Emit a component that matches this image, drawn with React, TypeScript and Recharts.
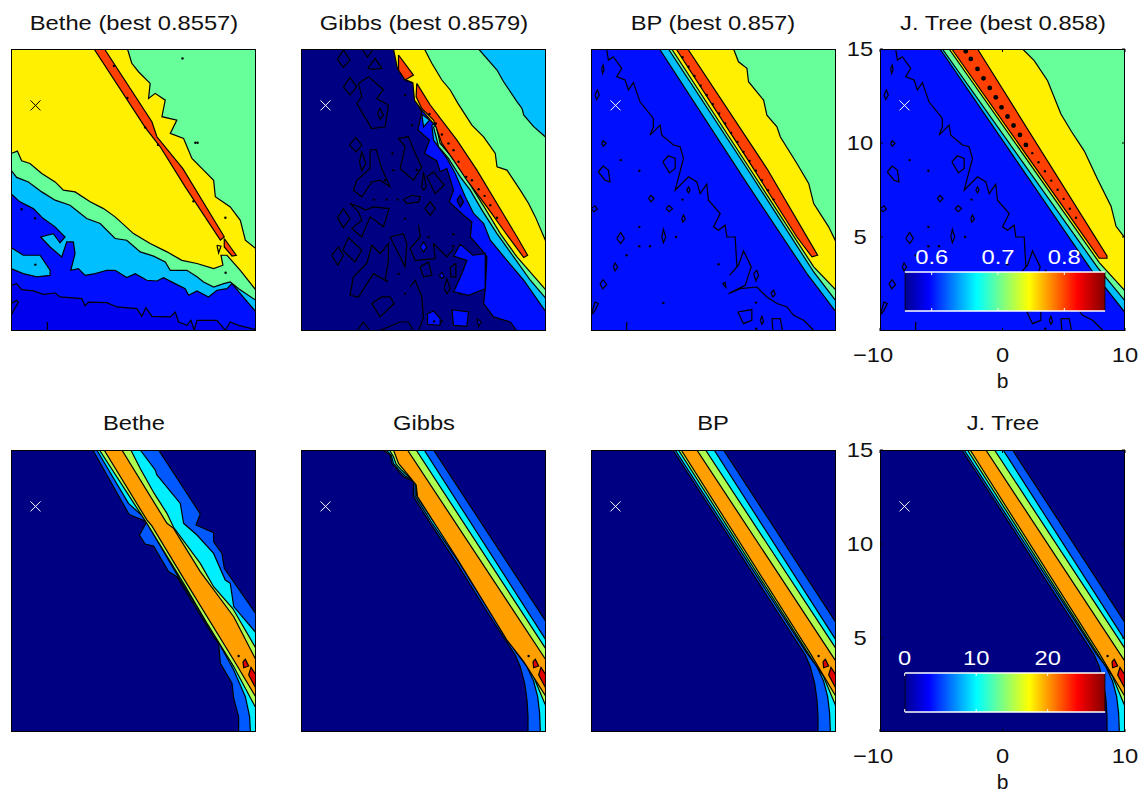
import React from "react";
import { ScatterChart, Scatter, XAxis, YAxis } from "recharts";

type Pairs = number[][];

// Axis ranges
const bRange = [-10, 10];
const yRange = [0, 15];
const bTicks = [-10, 0, 10];
const yTicks = [5, 10, 15];
const bestPoint: Pairs = [[-8, 12]];
const plotOutline: Pairs = [[-10, 0], [10, 0], [10, 15], [-10, 15]];

const titlesTop = ["Bethe (best 0.8557)", "Gibbs (best 0.8579)", "BP (best 0.857)", "J. Tree (best 0.858)"];
const titlesBottom = ["Bethe", "Gibbs", "BP", "J. Tree"];

// Colorbar scales
const accuracyRange = [0.5593, 0.8618];
const accuracyTicks = [0.6, 0.7, 0.8];
const energyRange = [0, 28.06];
const energyTicks = [0, 10, 20];

// Contour colours
const NAVY = "#000083";
const DEEP = "#0000EE";
const BLUE = "#0010FF";
const MID = "#0058FF";
const SKY = "#00BFFF";
const CYAN = "#00EFFF";
const MINT = "#66FF99";
const LIME = "#AFFF50";
const YELLOW = "#FFEF00";
const ORANGE = "#FF9F00";
const VERMILION = "#FF4000";
const RED = "#DF0000";

// ---- Bethe, accuracy ----
const betheBlue: Pairs = [[-10, 2.43], [-9.54, 2.52], [-9.13, 2.2], [-8.18, 2.13], [-7.36, 1.95], [-6.4, 2.02], [-6, 1.81], [-4.22, 1.72], [-3.95, 1.33], [-3.68, 1.54], [-2.18, 1.51], [-1.36, 1.28], [0.27, 1.19], [0.68, 0.78], [1.01, 1.24], [1.5, 0.78], [3, 0.75], [3.41, 1.01], [3.68, 0.48], [4.36, 0.3], [4.69, 0.57], [4.96, 0.04], [5.18, 0.57], [6.81, 0.57], [7.49, 0.04], [7.9, 0.48], [8.58, 0.3], [10, 0.07], [10, 15], [-10, 15]];
const betheBlueIsle: Pairs = [[-10, 0.83], [-9.4, 1.54], [-9.54, 1.63], [-10, 1.46]];
const betheSky: Pairs = [[-10, 7.31], [-9.27, 6.87], [-8.18, 6.51], [-7.36, 5.98], [-6.4, 5.54], [-5.59, 5], [-6, 4.69], [-6.54, 5.18], [-7.58, 5], [-6.81, 4.47], [-5.86, 3.94], [-5.45, 4.74], [-4.91, 4.74], [-4.77, 4.12], [-5.12, 3.23], [-4.5, 3.32], [-3.95, 2.96], [-3.13, 3.05], [-2.18, 3.23], [-1.5, 3.23], [-0.55, 2.84], [0.14, 3.05], [1.09, 2.7], [1.91, 2.66], [2.45, 2.84], [3.27, 2.56], [4.22, 2.25], [4.5, 1.9], [5.18, 2.13], [6.13, 1.81], [6.81, 2.17], [7.63, 2.25], [8.04, 2.52], [8.72, 1.99], [10, 1.01], [10, 15], [-10, 15]];
const betheSkyIsle: Pairs = [[-10, 4.44], [-9, 4.03], [-7.63, 4.03], [-6.81, 3.23], [-6.81, 2.96], [-7.9, 2.88], [-9, 3.05], [-10, 3.32]];
const betheMint: Pairs = [[-10, 8.56], [-9.54, 8.17], [-8.58, 7.93], [-7.49, 7.4], [-6.4, 6.96], [-5.18, 6.69], [-3.82, 5.98], [-2.72, 5.72], [-1.5, 4.92], [-0.55, 4.83], [0.55, 4.21], [1.64, 3.98], [2.59, 3.67], [3, 3.23], [4.36, 3.23], [5.18, 2.88], [5.72, 2.61], [6.54, 2.34], [7.36, 2.52], [7.9, 2.61], [8.58, 2.25], [10, 1.63], [10, 15], [-10, 15]];
const betheYellow: Pairs = [[-10, 9.44], [-9.48, 9.57], [-9.13, 9.05], [-8.45, 8.91], [-7.49, 8.38], [-6.4, 7.93], [-5.72, 7.49], [-4.77, 7.4], [-3.54, 6.87], [-2.45, 6.51], [-1.5, 6.07], [0, 5.18], [1.36, 4.65], [2.73, 4.21], [3.95, 3.76], [5.18, 3.59], [6.54, 3.32], [7.3, 3.5], [7.14, 4.03], [7.63, 4.03], [8.72, 3.23], [10, 2.17], [10, 15], [-10, 15]];
const betheUpperMint: Pairs = [[-0.49, 15], [-0.14, 14.24], [0.41, 13.79], [1.36, 13.17], [1.23, 12.37], [1.77, 12.64], [2.59, 12.28], [2.32, 11.4], [3.54, 11.22], [3, 10.51], [4.09, 10.24], [4.77, 9.18], [5.72, 8.56], [6.54, 8.02], [6.68, 7.14], [7.9, 6.6], [8.72, 5.89], [9.13, 4.83], [10, 4.38], [10, 15]];
const betheRidge: Pairs = [[-3.22, 15], [-2.37, 15], [1.5, 11.13], [1.91, 10.33], [4.03, 8.64], [7.41, 5.01], [7.09, 4.83], [4.22, 7.67], [2.18, 9.8], [0.95, 10.83]];
const betheRidgeTip: Pairs = [[7.41, 4.92], [8.39, 4.03], [8.04, 3.99], [7.41, 4.47]];
const betheLoops: Pairs[] = [[[6.81, 4.56], [7.14, 4.51], [6.95, 4.15]]];
const betheOpen: Pairs[] = [[[-7.03, 0], [-7.03, 0.48]]];
const betheSpecks: Pairs = [[4, 14.5], [5.23, 10.01], [5.05, 10.01], [7.52, 3.1], [-9.13, 6.48], [-8.04, 6], [-8.01, 3.53], [2, 9.9], [-1.6, 14.1], [0.95, 10.83], [-0.5, 12.4], [7.5, 6.02], [4.9, 6.9]];

// ---- Gibbs, accuracy ----
const gibbsBlue: Pairs = [[-2.45, 15], [-2.04, 13.88], [-1.5, 13.35], [-0.82, 13.17], [-0.68, 12.28], [-0.14, 11.66], [-0.46, 10.69], [0.49, 10.15], [0.08, 9.44], [1.09, 9.05], [1.36, 8.47], [1.91, 8.64], [2.45, 7.49], [2.1, 6.87], [3.27, 6.16], [3.95, 5.8], [3.82, 5], [4.77, 4.3], [5.18, 3.94], [5.04, 2.25], [4.91, 1.46], [5.72, 0.75], [7.09, 0.48], [7.63, 0], [10, 0], [10, 15]];
const gibbsBlueBlob: Pairs = [[3, 4.62], [4.03, 4.03], [5.04, 4.12], [5.04, 2.25], [3.68, 1.9], [2.45, 2.08], [3.13, 3.05], [3.54, 3.76], [2.45, 3.98]];
const gibbsBlueIsles: Pairs[] = [
  [[0.33, 0.92], [0.82, 1.07], [1.36, 0.66], [1.36, 0.3], [0.33, 0.36]],
  [[2.32, 1.14], [3.68, 1.01], [3.54, 0.25], [2.45, 0.3]],
  [[4.36, 0.66], [4.69, 0.48], [4.5, 0.25]],
  [[-0.27, 4.47], [0, 4.74], [0.27, 4.47], [0, 4.21]],
  [[1.28, 2.96], [1.5, 3.11], [1.69, 2.91], [1.5, 2.79]],
];
const gibbsNavyIsle: Pairs = [[2.73, 6.96], [3, 7.22], [3.27, 6.87], [3, 6.6]];
const gibbsSkyWedge: Pairs = [[-0.14, 11.54], [0.49, 11.22], [0, 10.86]];
const gibbsSky: Pairs = [[0.68, 10.95], [0.82, 10.15], [1.91, 9.18], [2.59, 8.38], [3.41, 7.14], [4.09, 6.25], [4.91, 5.72], [5.45, 4.83], [6.81, 3.76], [8.18, 2.7], [10, 1.01], [10, 15]];
const gibbsMint: Pairs = [[0.82, 10.86], [1.23, 9.8], [2.04, 9.18], [3, 8.2], [3.82, 7.49], [4.77, 6.43], [6, 5.18], [7.36, 3.94], [8.72, 2.7], [10, 1.72], [10, 15]];
const gibbsYellow: Pairs = [[-2.45, 15], [-2.13, 13.97], [-1.5, 13.38], [-0.87, 13.21], [-0.74, 12.28], [-0.14, 11.75], [0.68, 11.13], [1.04, 10.9], [1.36, 9.98], [2.18, 9.35], [3.27, 8.38], [4.09, 7.49], [5.04, 6.51], [6.27, 5.18], [7.63, 3.94], [10, 2.17], [10, 15]];
const gibbsUpperMint: Pairs = [[0.08, 15], [0.68, 14.24], [1.5, 13.35], [2.18, 12.82], [2.81, 12.11], [3.95, 10.95], [4.91, 10.33], [5.86, 9.44], [6, 8.73], [6.81, 8.56], [7.9, 7.49], [8.58, 6.78], [9.13, 6.07], [10, 4.74], [10, 15]];
const gibbsUpperSky: Pairs = [[4.5, 15], [6, 13.88], [6.54, 13.26], [7.63, 12.2], [8.04, 11.84], [8.18, 11.49], [8.99, 10.87], [10, 10.3], [10, 15]];
const gibbsRidgeTop: Pairs = [[-2.04, 14.68], [-0.82, 13.61], [-1.5, 13.35], [-2.04, 13.88]];
const gibbsRidge: Pairs = [[-0.55, 13.17], [0.55, 12.02], [2.73, 10.15], [4.36, 8.56], [6, 6.78], [7.63, 5.01], [8.5, 4.03], [8.18, 3.91], [6.54, 5.36], [5.18, 6.6], [3.54, 8.02], [2.45, 9.09], [1.5, 9.98], [0.82, 11.22], [-0.14, 11.84], [-0.6, 12.46]];
const gibbsRidgeSpecks: Pairs = [[0.49, 11.54], [1.01, 11.04], [1.5, 10.45], [2.04, 9.98], [2.45, 9.62], [2.86, 9], [3.49, 8.2], [3.95, 8.02], [4.5, 7.54], [4.99, 7.19], [5.45, 6.69], [6, 6.02]];
const gibbsLoops: Pairs[] = [
  [[-7.03, 14.45], [-6.54, 14.95], [-6, 14.41], [-6.54, 14.02]],
  [[-4.55, 13.97], [-3.95, 14.5], [-3.41, 13.97], [-4.09, 13.92]],
  [[-6.54, 12.99], [-6, 13.49], [-5.45, 12.99], [-6, 12.55]],
  [[-5.45, 12.11], [-5.04, 12.46], [-5.31, 13.17], [-4.5, 13.53], [-3.27, 12.85], [-3.82, 12.37], [-2.86, 12.02], [-3.13, 10.86], [-4.22, 10.77]],
  [[-3.76, 11.57], [-3.54, 11.84], [-3.27, 11.48], [-3.54, 11.25]],
  [[-6.05, 9.89], [-5.53, 10.3], [-5.04, 9.89], [-5.5, 9.53]],
  [[-5.23, 9], [-5.04, 9.53], [-4.71, 8.91], [-5.04, 8.52]],
  [[-5.45, 8.02], [-4.36, 8.64], [-4.36, 9.62], [-3.87, 9.66], [-3.41, 8.64], [-2.73, 7.67], [-3.54, 8.02], [-4.22, 7.93], [-5.04, 7.14], [-5.72, 7.49]],
  [[-7.03, 6.02], [-6.54, 6.51], [-6, 5.98], [-6.54, 5.5]],
  [[-6, 6.78], [-5.23, 6.6], [-4.77, 6.43], [-4.09, 6.6], [-2.81, 6.51], [-3.27, 5.54], [-4.36, 6.07], [-5.04, 5], [-5.86, 5.45], [-5.04, 5.89], [-5.31, 6.34]],
  [[-7.49, 4.03], [-6.95, 4.47], [-6.54, 4.03], [-7, 3.5]],
  [[-6.59, 4.3], [-6.13, 4.97], [-5.04, 4.3], [-5.59, 3.67]],
  [[-6, 1.9], [-5.72, 2.88], [-4.63, 3.59], [-4.22, 4.56], [-3.54, 4.12], [-2.86, 4.65], [-2.86, 3.76], [-3.13, 2.7], [-4.09, 3.05], [-5.31, 1.81]],
  [[-4.22, 1.46], [-3.41, 1.81], [-2.73, 1.81], [-2.4, 1.46], [-3.54, 0.75]],
  [[-2.73, 5], [-1.64, 5.18], [-1.36, 4.65], [-1.5, 3.41], [-2.18, 4.3]],
  [[-1.64, 6.99], [-0.95, 7.22], [-0.27, 7.14], [-0.41, 6.87], [-1.36, 6.78]],
  [[0.11, 6.51], [0.55, 6.87], [0.95, 6.51], [0.55, 6.16]],
  [[-1.91, 8.64], [-1.5, 9.8], [-2.04, 10.24], [-1.23, 10.33], [-0.68, 9.44], [-0.14, 8.73], [-0.82, 8.02]],
  [[-0.14, 7.67], [0, 8.47], [0.22, 7.67], [0, 7.49]],
  [[0.27, 8.2], [0.82, 8.47], [1.69, 7.76], [0.95, 7.31]],
  [[-0.27, 3.41], [0.41, 3.67], [0.68, 2.96], [0, 2.88]],
  [[2.18, 3.41], [2.64, 3.59], [2.64, 2.88], [2.23, 2.88]],
  [[1.69, 2.25], [1.91, 2.79], [2.18, 2.25], [1.91, 1.99]],
];
const gibbsOpen: Pairs[] = [
  [[-5.04, 15], [-4.58, 14.56], [-4.09, 15]],
  [[-5.45, 0], [-4.91, 0.48], [-4.36, 0]],
  [[-0.41, 5.63], [-0.27, 5], [-1.09, 4.38], [-0.68, 3.76], [0.95, 3.85], [0.82, 4.65], [1.91, 3.94], [2.45, 4.38]],
  [[-1.09, 2.34], [-0.68, 2.7], [-0.14, 1.81], [0, 0.75], [-0.41, 0]],
  [[-3.68, 0], [-1.91, 0.48], [-1.23, 0.48], [-0.82, 0]],
];
const gibbsSpecks: Pairs = [[-2.53, 9.44], [-3.13, 8.02], [-4.03, 6.99], [-3, 6.99], [-2.1, 6.99], [-1.5, 5.98], [0.41, 5], [2.45, 5.15], [2.45, 4.51], [-2.04, 3.05], [-3, 2.66], [-1.5, 1.99], [3, 1.99], [0.87, 0.51], [1.5, 0.51], [-0.55, 8.56], [-2.45, 8.55], [-1.5, 12.55], [-0.95, 10.95]];

// ---- BP, accuracy ----
const bpSky: Pairs = [[-4.41, 15], [2.73, 7.85], [7.63, 3.05], [10, 1.01], [10, 15]];
const bpMint: Pairs = [[-3.68, 15], [3, 8.38], [8.18, 3.14], [10, 1.6], [10, 15]];
const bpYellow: Pairs = [[-3.41, 15], [3.13, 8.47], [8.18, 3.41], [10, 2.17], [10, 15]];
const bpRidge: Pairs = [[-3.05, 15], [-2.1, 15], [4.36, 8.64], [8.5, 4.03], [8.04, 3.94], [6.81, 5], [2.73, 9.18]];
const bpUpperMint: Pairs = [[1.64, 15], [2.04, 14.32], [2.73, 13.97], [2.86, 13.26], [4.09, 12.28], [4.36, 11.48], [5.18, 10.86], [5.45, 10.33], [6.81, 8.91], [7.77, 7.85], [8.18, 6.78], [9.4, 5.54], [10, 4.74], [10, 15]];
const bpWiggle: Pairs = [[-8.72, 15], [-8.58, 14.41], [-8.18, 14.59], [-7.49, 13.97], [-7.9, 13.53], [-7.22, 13.35], [-6.95, 12.82], [-6.54, 13.21], [-6, 12.19], [-4.91, 11.31], [-4.91, 10.86], [-5.18, 10.42], [-4.36, 10.95], [-4.22, 10.42], [-3.27, 9.89], [-2.73, 9.8], [-2.45, 9.18], [-3.13, 7.49], [-2.04, 8.2], [-1.36, 7.93], [-1.09, 7.31], [-0.55, 7.81], [-0.41, 6.96], [0.55, 6.25], [0, 5.54], [0.41, 5.36], [0.95, 5.63], [1.09, 5], [1.77, 5], [1.91, 3.41], [1.31, 2.96], [2.04, 3.5], [2.45, 4.26], [3.08, 3.41], [2.59, 2.43], [1.23, 1.99], [2.18, 2.25], [3.54, 2.34], [4.36, 1.81], [5.18, 1.46], [6, 1.28], [6.54, 0.83], [7.36, 0.57], [8.18, 0.04]];
const bpLoops: Pairs[] = [
  [[-9.13, 13.97], [-9, 14.15], [-8.94, 13.88], [-9.05, 13.7]],
  [[-9.67, 12.55], [-9.48, 12.82], [-9.32, 12.55], [-9.54, 12.32]],
  [[-9.13, 9.98], [-9, 10.12], [-8.77, 9.98], [-9, 9.83]],
  [[-9.4, 8.47], [-9, 8.77], [-8.58, 8.56], [-8.45, 7.93], [-8.86, 8.02]],
  [[-4.14, 9], [-3.68, 9.32], [-3.13, 9.18], [-3.13, 8.64], [-3.6, 8.41]],
  [[-5.31, 7.05], [-5.1, 7.21], [-4.85, 7.05], [-5.1, 6.87]],
  [[-3.87, 6.51], [-3.62, 6.67], [-3.35, 6.51], [-3.62, 6.35]],
  [[-2.59, 5.98], [-2.45, 6.16], [-2.29, 5.95], [-2.51, 5.8]],
  [[-10, 6.51], [-9.67, 6.66], [-9.48, 6.48], [-9.76, 6.34]],
  [[-7.9, 4.92], [-7.58, 5.24], [-7.28, 4.92], [-7.58, 4.65]],
  [[-4.22, 5], [-4.09, 5.4], [-3.9, 5], [-4.09, 4.7]],
  [[-8.18, 3.41], [-8.04, 3.62], [-7.82, 3.41], [-8.04, 3.2]],
  [[-9.27, 2.52], [-9, 2.73], [-8.72, 2.47], [-9.05, 2.25]],
  [[-10, 0.83], [-9.67, 1.54], [-9.4, 1.46], [-9.67, 1.1]],
  [[1.99, 1.01], [3.13, 1.14], [3.13, 0.57], [2.45, 0.39]],
  [[4.77, 0.66], [5.45, 0.66], [5.64, 0], [4.85, 0]],
  [[3.27, 3.05], [3.54, 3.23], [3.68, 2.96], [3.46, 2.66]],
  [[0.74, 2.52], [0.95, 2.59], [1.01, 2.31]],
  [[4.69, 2.02], [4.91, 2.17], [5.04, 1.95], [4.85, 1.81]],
  [[3.82, 0.57], [3.95, 0.78], [4.09, 0.48], [3.95, 0.36]],
  [[-2.18, 7.49], [-2.04, 7.67], [-1.91, 7.49], [-2.04, 7.35]],
];
const bpOpen: Pairs[] = [bpWiggle, [[-7.09, 0], [-7.09, 0.48]]];
const bpSpecks: Pairs = [[-7.58, 9.09], [-6.05, 8.52], [-2.53, 6.99], [-3.05, 5], [-6.05, 4.51], [-5.18, 4.51], [-7.09, 4.03], [-4.09, 1.49], [-6.05, 5.54], [0.41, 3.55], [3.46, 1.51], [3.49, 0.12]];
const bpRidgeSpecks: Pairs = [[-2.53, 14.56], [-2.04, 14.06], [-1.55, 13.56], [-1.04, 13.05], [-0.55, 12.55], [-0.05, 12.07], [0.46, 11.57], [0.95, 11.04], [1.44, 10.54], [1.96, 10.06], [2.45, 9.53], [2.94, 9.05], [3.46, 8.52], [3.95, 8.02], [4.44, 7.49], [4.91, 6.99]];

// ---- Junction tree, accuracy ----
const treeSky: Pairs = [[-5.1, 15], [7.22, 3.28], [10, 0.98], [10, 15]];
const treeMint: Pairs = [[-4.91, 15], [7.77, 3.37], [10, 1.6], [10, 15]];
const treeYellow: Pairs = [[-4.36, 15], [7.9, 3.64], [10, 2.13], [10, 15]];
const treeRidge: Pairs = [[-4.14, 15], [-2.04, 15], [8.53, 3.99], [8.53, 3.87], [7.9, 3.87]];
const treeUpperMint: Pairs = [[1.64, 15], [2.59, 14.38], [3.68, 13.31], [4.77, 11.54], [5.59, 10.65], [6.68, 9.57], [7.77, 8.06], [8.86, 6.64], [9.27, 5.57], [10, 4.95], [10, 15]];
const treeRidgeHoles: Pairs = [[-3, 14.88], [-2.59, 14.47], [-2.04, 13.94], [-1.55, 13.44], [-1.04, 12.93], [-0.55, 12.43], [-0.08, 11.9], [0.41, 11.41], [0.9, 10.93], [1.42, 10.43], [1.91, 9.9]];
const treeRidgeSpecks: Pairs = [[2.43, 9.46], [2.94, 8.98], [3.46, 8.5], [3.98, 8], [4.5, 7.51], [4.99, 7.03], [5.5, 6.5], [6, 6.02]];

// ---- Energy panels ----
const energyRedBig: Pairs = [[9.4, 3.03], [9.59, 3.44], [10, 3.03], [10, 2.32]];
const energyRedSmall: Pairs = [[8.94, 3.74], [9.13, 3.87], [9.4, 3.51], [8.99, 3.42]];
const energySpecks: Pairs = [[8.58, 4.04]];

const betheEnergyBlue: Pairs = [[-3.32, 15], [-0.41, 11.63], [-0.27, 11.54], [1.09, 11.19], [0.49, 10.48], [0.95, 10], [1.64, 9.89], [2.86, 8.53], [3.54, 8.26], [6.54, 5.07], [6.95, 4.72], [7.09, 3.65], [8.04, 2.59], [8.18, 1.79], [8.58, 0.82], [8.58, 0], [10, 0], [10, 6.28], [7.41, 8.71], [7.22, 9.5], [6.54, 10.12], [6.54, 10.6], [5.1, 11.01], [5.45, 11.6], [3.82, 13.23], [2.04, 15]];
const betheEnergyCyan: Pairs = [[-3, 15], [-0.41, 12.16], [1.09, 11.28], [1.36, 10.83], [3.82, 8.08], [6.54, 5.25], [8.18, 3.3], [9.13, 1.88], [9.48, 0.82], [9.54, 0], [10, 0], [10, 5.28], [8.18, 6.67], [7.9, 7.91], [7.49, 8.08], [6.54, 9.5], [5.18, 10.48], [4.09, 11.1], [3.82, 12.16], [1.91, 13.67], [1.77, 13.94], [0.55, 15]];
const betheEnergyLime: Pairs = [[-2.78, 15], [1.09, 11.1], [4.09, 7.91], [6, 5.78], [8.18, 3.48], [10, 1.26], [10, 4.45], [8.09, 6.58], [6.54, 7.73], [5.45, 8.97], [3.27, 10.89], [2.73, 11.63], [1.69, 12.69], [0.55, 14.02], [-0.22, 15]];
const betheEnergyOrange: Pairs = [[-2.4, 15], [1.09, 11.28], [1.5, 10.96], [4.09, 8.17], [8.18, 3.83], [10, 1.84], [10, 3.83], [8.18, 6.13], [5.45, 8.53], [3.27, 10.83], [2.73, 11.1], [-0.95, 15]];

const gibbsEnergyBlue: Pairs = [[-3.32, 15], [-2.73, 14.73], [-2.59, 14.29], [-2.13, 13.94], [-1.64, 13.58], [-0.82, 13.32], [-0.82, 12.52], [0.55, 11.1], [2.73, 8.97], [5.45, 6.13], [7.49, 4.1], [7.9, 3.47], [8.26, 2.59], [8.45, 1.7], [8.53, 0.82], [8.53, 0], [10, 0], [10, 5.87], [0.82, 15]];
const gibbsEnergyCyan: Pairs = [[-3.05, 15], [-2.64, 14.73], [-2.45, 14.29], [-2.04, 13.97], [-1.5, 13.62], [-0.68, 13.32], [-0.68, 12.55], [0.68, 11.13], [2.86, 9.06], [5.59, 6.22], [7.63, 4.18], [8.45, 3.47], [8.99, 2.7], [9.32, 1.88], [9.48, 0.99], [9.54, 0], [10, 0], [10, 4.89], [0.05, 15]];
const gibbsEnergyLime: Pairs = [[-2.78, 15], [-2.45, 14.64], [-2.23, 14.25], [-1.85, 13.97], [-1.36, 13.67], [-0.6, 13.23], [-0.55, 12.55], [0.82, 11.19], [3, 9.15], [5.72, 6.31], [7.9, 4.1], [8.99, 2.94], [10, 1.35], [10, 4.41], [-0.6, 15]];
const gibbsEnergyOrange: Pairs = [[-2.45, 15], [-2.04, 14.29], [-1.36, 13.76], [-0.6, 13.14], [-0.49, 12.52], [2.73, 9.24], [6.81, 4.89], [8.18, 3.74], [10, 1.88], [10, 3.83], [-1.31, 15]];

const bpEnergyBlue: Pairs = [[-3.32, 15], [7.49, 4.1], [7.9, 3.47], [8.26, 2.59], [8.45, 1.7], [8.53, 0.82], [8.53, 0], [10, 0], [10, 5.82], [0.82, 15]];
const bpEnergyCyan: Pairs = [[-3.13, 15], [7.63, 4.18], [8.45, 3.47], [8.99, 2.7], [9.32, 1.88], [9.48, 0.99], [9.54, 0], [10, 0], [10, 4.89], [0.05, 15]];
const bpEnergyLime: Pairs = [[-2.86, 15], [7.9, 4.01], [8.99, 2.94], [10, 1.35], [10, 4.43], [-0.65, 15]];
const bpEnergyOrange: Pairs = [[-2.64, 15], [7.9, 4.18], [10, 1.88], [10, 3.76], [-1.36, 15]];

const jetStops: [string, string][] = [
  ["0%", "#00008F"], ["12%", "#0000FF"], ["36%", "#00FFFF"], ["62%", "#FFFF00"], ["86%", "#FF0000"], ["100%", "#800000"],
];

type Region = [Pairs, string];

interface PanelSpec {
  regions: Region[];
  loops?: Pairs[];
  open?: Pairs[];
  specks?: Pairs;
  bigSpecks?: Pairs;
  markerColor: string;
}

const toPoints = (pairs: Pairs) => pairs.map(([b, y]) => ({ b, y }));
const closed = (pairs: Pairs) => toPoints([...pairs, pairs[0]]);
const noSymbol = () => <g />;
const FONT = "'Liberation Sans', Arial, sans-serif";
const FONT_SIZE = 21;
const STRETCH = 1.13;
const CONTOUR = 1.2;

const energyRegions = (blue: Pairs, cyan: Pairs, lime: Pairs, orange: Pairs): Region[] => [
  [plotOutline, NAVY],
  [blue, MID],
  [cyan, CYAN],
  [lime, LIME],
  [orange, ORANGE],
  [energyRedBig, RED],
  [energyRedSmall, RED],
];

const topPanels: PanelSpec[] = [
  {
    regions: [
      [plotOutline, DEEP], [betheBlue, BLUE], [betheBlueIsle, DEEP], [betheSky, SKY], [betheSkyIsle, SKY],
      [betheMint, MINT], [betheYellow, YELLOW], [betheUpperMint, MINT], [betheRidge, VERMILION], [betheRidgeTip, VERMILION],
    ],
    loops: betheLoops, open: betheOpen, specks: betheSpecks, markerColor: "#000",
  },
  {
    regions: [
      [plotOutline, NAVY], [gibbsBlue, BLUE], [gibbsBlueBlob, BLUE],
      ...gibbsBlueIsles.map((isle): Region => [isle, BLUE]),
      [gibbsNavyIsle, NAVY], [gibbsSkyWedge, SKY], [gibbsSky, SKY], [gibbsMint, MINT], [gibbsYellow, YELLOW],
      [gibbsUpperMint, MINT], [gibbsUpperSky, SKY], [gibbsRidgeTop, VERMILION], [gibbsRidge, VERMILION],
    ],
    loops: gibbsLoops, open: gibbsOpen, specks: [...gibbsSpecks, ...gibbsRidgeSpecks], markerColor: "#fff",
  },
  {
    regions: [
      [plotOutline, BLUE], [bpSky, SKY], [bpMint, MINT], [bpYellow, YELLOW], [bpUpperMint, MINT], [bpRidge, VERMILION],
    ],
    loops: bpLoops, open: bpOpen, specks: [...bpSpecks, ...bpRidgeSpecks], markerColor: "#fff",
  },
  {
    regions: [
      [plotOutline, BLUE], [treeSky, SKY], [treeMint, MINT], [treeYellow, YELLOW], [treeUpperMint, MINT], [treeRidge, VERMILION],
    ],
    loops: bpLoops, open: bpOpen, specks: [...bpSpecks, ...treeRidgeSpecks], bigSpecks: treeRidgeHoles, markerColor: "#fff",
  },
];

const bottomPanels: PanelSpec[] = [
  { regions: energyRegions(betheEnergyBlue, betheEnergyCyan, betheEnergyLime, betheEnergyOrange), specks: energySpecks, markerColor: "#fff" },
  { regions: energyRegions(gibbsEnergyBlue, gibbsEnergyCyan, gibbsEnergyLime, gibbsEnergyOrange), specks: energySpecks, markerColor: "#fff" },
  { regions: energyRegions(bpEnergyBlue, bpEnergyCyan, bpEnergyLime, bpEnergyOrange), specks: energySpecks, markerColor: "#fff" },
  { regions: energyRegions(bpEnergyBlue, bpEnergyCyan, bpEnergyLime, bpEnergyOrange), specks: energySpecks, markerColor: "#fff" },
];

const PLOT_W = 245;
const PLOT_H = 282;
const columnsX = [11, 301, 590.5, 880.3];

const stretched = (x: number, y: number, label: string, fill = "#111") => (
  <text
    transform={`translate(${x} ${y}) scale(${STRETCH} 1)`}
    textAnchor="middle"
    dominantBaseline="central"
    fontFamily={FONT}
    fontSize={FONT_SIZE}
    fill={fill}
  >
    {label}
  </text>
);

const BottomTick = (props: any) => {
  const { x, y, payload } = props;
  const v = payload.value as number;
  const label = v < 0 ? `\u2212${-v}` : `${v}`;
  return (
    <g>
      <line x1={x} x2={x} y1={y} y2={y - 3} stroke="#000" />
      <line x1={x} x2={x} y1={y - PLOT_H} y2={y - PLOT_H + 3} stroke="#000" />
      {stretched(v < 0 ? x - 7 : x, y + 24, label)}
    </g>
  );
};

const LeftTick = (props: any) => {
  const { x, y, payload } = props;
  return (
    <g>
      <line x1={x} x2={x + 3} y1={y} y2={y} stroke="#000" />
      <line x1={x + PLOT_W} x2={x + PLOT_W - 3} y1={y} y2={y} stroke="#000" />
      {stretched(x - 20, y, `${payload.value}`)}
    </g>
  );
};

const XMark = (color: string) => (props: any) => {
  const { cx, cy } = props;
  const r = 5;
  return (
    <g stroke={color} strokeWidth={1}>
      <line x1={cx - r} y1={cy - r} x2={cx + r} y2={cy + r} />
      <line x1={cx - r} y1={cy + r} x2={cx + r} y2={cy - r} />
    </g>
  );
};

const Speck = (r: number) => (props: any) => <circle cx={props.cx} cy={props.cy} r={r} fill="#000" />;

function Panel({ spec, left, top, axes }: { spec: PanelSpec; left: number; top: number; axes: boolean }) {
  const marginLeft = axes ? 39 : 3;
  const marginTop = axes ? 14 : 3;
  const marginRight = axes ? 22 : 3;
  const marginBottom = axes ? 0 : 3;
  const axisHeight = axes ? 72 : 0;
  const w = PLOT_W + marginLeft + marginRight;
  const h = PLOT_H + marginTop + axisHeight + marginBottom;
  return (
    <div style={{ position: "absolute", left: left - marginLeft, top: top - marginTop }}>
      <ScatterChart
        width={w}
        height={h}
        margin={{ top: marginTop, right: marginRight, bottom: marginBottom, left: axes ? 0 : 3 }}
      >
        <XAxis
          type="number"
          dataKey="b"
          domain={bRange}
          ticks={bTicks}
          hide={!axes}
          height={axisHeight}
          axisLine={false}
          tickLine={false}
          tickSize={0}
          tickMargin={0}
          interval={0}
          tick={BottomTick}
          allowDataOverflow
          label={axes ? { value: "b", position: "insideBottom", offset: 15, fontFamily: FONT, fontSize: 21, fill: "#111" } : undefined}
        />
        <YAxis
          type="number"
          dataKey="y"
          domain={yRange}
          ticks={yTicks}
          hide={!axes}
          width={39}
          axisLine={false}
          tickLine={false}
          tickSize={0}
          tickMargin={0}
          interval={0}
          tick={LeftTick}
          allowDataOverflow
        />
        {spec.regions.map(([pairs, fill], i) => (
          <Scatter
            key={`r${i}`}
            data={closed(pairs)}
            line={{ fill, stroke: i === 0 ? "none" : "#000", strokeWidth: CONTOUR }}
            shape={noSymbol}
            isAnimationActive={false}
          />
        ))}
        {(spec.loops || []).map((pairs, i) => (
          <Scatter
            key={`l${i}`}
            data={closed(pairs)}
            line={{ fill: "none", stroke: "#000", strokeWidth: CONTOUR }}
            shape={noSymbol}
            isAnimationActive={false}
          />
        ))}
        {(spec.open || []).map((pairs, i) => (
          <Scatter
            key={`o${i}`}
            data={toPoints(pairs)}
            line={{ fill: "none", stroke: "#000", strokeWidth: CONTOUR }}
            shape={noSymbol}
            isAnimationActive={false}
          />
        ))}
        {spec.specks && <Scatter data={toPoints(spec.specks)} shape={Speck(1.2)} isAnimationActive={false} />}
        {spec.bigSpecks && <Scatter data={toPoints(spec.bigSpecks)} shape={Speck(2.4)} isAnimationActive={false} />}
        <Scatter data={toPoints(bestPoint)} shape={XMark(spec.markerColor)} isAnimationActive={false} />
        <Scatter
          data={closed(plotOutline)}
          line={{ fill: "none", stroke: "#000", strokeWidth: 2 }}
          shape={noSymbol}
          isAnimationActive={false}
        />
      </ScatterChart>
    </div>
  );
}

const ColorTick = (props: any) => {
  const { x, y, payload } = props;
  return (
    <g>
      <line x1={x} x2={x} y1={y} y2={y + 3} stroke="#fff" />
      <line x1={x} x2={x} y1={y + 39} y2={y + 36} stroke="#fff" />
      {stretched(x, y - 15, `${payload.value}`, "#fff")}
    </g>
  );
};

function Colorbar({ id, range, ticks, top }: { id: string; range: number[]; ticks: number[]; top: number }) {
  const [lo, hi] = range;
  const box: Pairs = [[lo, 0], [hi, 0], [hi, 1], [lo, 1]];
  return (
    <div style={{ position: "absolute", left: 890, top: top - 32 }}>
      <ScatterChart width={240} height={80} margin={{ top: 0, right: 24.7, bottom: 9, left: 14.7 }}>
        <defs>
          <linearGradient id={id} x1="0" y1="0" x2="1" y2="0">
            {jetStops.map(([offset, color]) => (
              <stop key={offset} offset={offset} stopColor={color} />
            ))}
          </linearGradient>
        </defs>
        <XAxis
          xAxisId={0}
          orientation="top"
          type="number"
          dataKey="b"
          domain={range}
          ticks={ticks}
          height={32}
          axisLine={false}
          tickLine={false}
          tickSize={0}
          tickMargin={0}
          interval={0}
          tick={ColorTick}
          allowDataOverflow
        />
        <YAxis type="number" dataKey="y" domain={[0, 1]} hide />
        <Scatter
          data={closed(box)}
          line={{ fill: `url(#${id})`, stroke: "none" }}
          shape={noSymbol}
          isAnimationActive={false}
        />
        <Scatter data={toPoints([[lo, 0], [lo, 1]])} line={{ stroke: "#000", strokeWidth: 1.5 }} shape={noSymbol} isAnimationActive={false} />
        <Scatter data={toPoints([[hi, 0], [hi, 1]])} line={{ stroke: "#000", strokeWidth: 1.5 }} shape={noSymbol} isAnimationActive={false} />
        <Scatter data={toPoints([[lo, 1], [hi, 1]])} line={{ stroke: "#fff", strokeWidth: 1.6 }} shape={noSymbol} isAnimationActive={false} />
        <Scatter data={toPoints([[lo, 0], [hi, 0]])} line={{ stroke: "#fff", strokeWidth: 1.6 }} shape={noSymbol} isAnimationActive={false} />
      </ScatterChart>
    </div>
  );
}

function Title({ text, x, y }: { text: string; x: number; y: number }) {
  return (
    <div
      style={{
        position: "absolute",
        left: x - 150,
        top: y - 15,
        width: 300,
        height: 30,
        lineHeight: "30px",
        textAlign: "center",
        fontFamily: FONT,
        fontSize: FONT_SIZE,
        color: "#111",
        transform: `scaleX(${STRETCH})`,
      }}
    >
      {text}
    </div>
  );
}

export default function App() {
  return (
    <div style={{ position: "absolute", left: 0, top: 0, width: 1141, height: 789, overflow: "hidden", background: "#fff" }}>
      {titlesTop.map((t, i) => (
        <Title key={t} text={t} x={columnsX[i] + PLOT_W / 2} y={23} />
      ))}
      {titlesBottom.map((t, i) => (
        <Title key={t} text={t} x={columnsX[i] + PLOT_W / 2} y={423} />
      ))}
      {topPanels.map((spec, i) => (
        <Panel key={`top${i}`} spec={spec} left={columnsX[i]} top={49} axes={i === 3} />
      ))}
      {bottomPanels.map((spec, i) => (
        <Panel key={`bottom${i}`} spec={spec} left={columnsX[i]} top={450} axes={i === 3} />
      ))}
      <Colorbar id="jetAccuracy" range={accuracyRange} ticks={accuracyTicks} top={272} />
      <Colorbar id="jetEnergy" range={energyRange} ticks={energyTicks} top={673} />
    </div>
  );
}
